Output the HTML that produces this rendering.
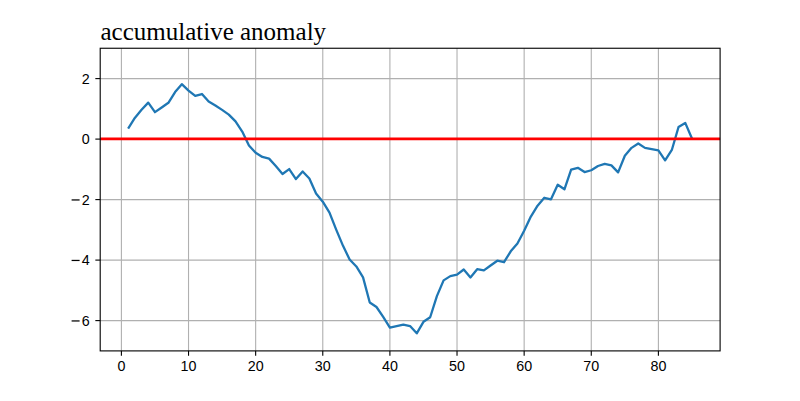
<!DOCTYPE html>
<html><head><meta charset="utf-8"><style>
html,body{margin:0;padding:0;background:#fff;width:800px;height:401px;overflow:hidden}
svg{display:block}
.g{stroke:#b0b0b0;stroke-width:1.11}
.d{fill:none;stroke:#1f77b4;stroke-width:2.3;stroke-linejoin:round;stroke-linecap:butt}
.r{stroke:#ff0000;stroke-width:2.78}
.s{fill:none;stroke:#000;stroke-width:1.11}
.t{stroke:#000;stroke-width:1.11}
.l{font-family:"Liberation Sans",sans-serif;font-size:14.3px;fill:#000}
.ti{font-family:"Liberation Serif",serif;font-size:25px;fill:#000}
</style></head><body>
<svg width="800" height="401" viewBox="0 0 800 401">
<rect width="800" height="401" fill="#fff"/>
<line x1="121.40" y1="48.25" x2="121.40" y2="350.90" class="g"/>
<line x1="188.53" y1="48.25" x2="188.53" y2="350.90" class="g"/>
<line x1="255.65" y1="48.25" x2="255.65" y2="350.90" class="g"/>
<line x1="322.77" y1="48.25" x2="322.77" y2="350.90" class="g"/>
<line x1="389.90" y1="48.25" x2="389.90" y2="350.90" class="g"/>
<line x1="457.02" y1="48.25" x2="457.02" y2="350.90" class="g"/>
<line x1="524.15" y1="48.25" x2="524.15" y2="350.90" class="g"/>
<line x1="591.27" y1="48.25" x2="591.27" y2="350.90" class="g"/>
<line x1="658.40" y1="48.25" x2="658.40" y2="350.90" class="g"/>
<line x1="100.20" y1="320.60" x2="720.10" y2="320.60" class="g"/>
<line x1="100.20" y1="260.10" x2="720.10" y2="260.10" class="g"/>
<line x1="100.20" y1="199.60" x2="720.10" y2="199.60" class="g"/>
<line x1="100.20" y1="139.10" x2="720.10" y2="139.10" class="g"/>
<line x1="100.20" y1="78.60" x2="720.10" y2="78.60" class="g"/>
<polyline points="128.11,128.51 134.83,117.92 141.54,109.76 148.25,102.65 154.96,112.18 161.68,107.49 168.39,102.80 175.10,92.06 181.81,84.20 188.53,90.55 195.24,95.84 201.95,94.03 208.66,101.59 215.38,105.52 222.09,109.91 228.80,114.60 235.51,121.40 242.23,131.54 248.94,145.45 255.65,152.71 262.36,156.95 269.08,158.61 275.79,166.02 282.50,174.04 289.21,169.05 295.93,179.03 302.64,171.47 309.35,178.43 316.06,193.55 322.77,201.72 329.49,212.61 336.20,229.55 342.91,245.58 349.62,259.50 356.34,266.45 363.05,277.34 369.76,302.45 376.48,306.99 383.19,316.97 389.90,327.56 396.61,326.04 403.33,324.53 410.04,326.04 416.75,333.30 423.46,321.81 430.18,317.27 436.89,296.10 443.60,280.37 450.31,276.13 457.02,274.62 463.74,269.48 470.45,277.49 477.16,269.17 483.88,270.38 490.59,265.54 497.30,260.70 504.01,262.22 510.73,251.33 517.44,243.46 524.15,230.76 530.86,216.54 537.58,205.65 544.29,197.78 551.00,199.30 557.71,184.78 564.43,189.31 571.14,169.65 577.85,167.84 584.56,172.07 591.27,170.26 597.99,166.02 604.70,163.91 611.41,165.42 618.12,172.38 624.84,155.74 631.55,147.87 638.26,143.49 644.98,147.87 651.69,149.08 658.40,150.29 665.11,160.27 671.83,149.99 678.54,127.00 685.25,122.92 691.96,138.50" class="d"/>
<line x1="100.20" y1="138.9" x2="720.10" y2="138.9" class="r"/>
<rect x="100.20" y="48.25" width="619.90" height="302.65" class="s"/>
<line x1="121.40" y1="350.90" x2="121.40" y2="355.76" class="t"/>
<line x1="188.53" y1="350.90" x2="188.53" y2="355.76" class="t"/>
<line x1="255.65" y1="350.90" x2="255.65" y2="355.76" class="t"/>
<line x1="322.77" y1="350.90" x2="322.77" y2="355.76" class="t"/>
<line x1="389.90" y1="350.90" x2="389.90" y2="355.76" class="t"/>
<line x1="457.02" y1="350.90" x2="457.02" y2="355.76" class="t"/>
<line x1="524.15" y1="350.90" x2="524.15" y2="355.76" class="t"/>
<line x1="591.27" y1="350.90" x2="591.27" y2="355.76" class="t"/>
<line x1="658.40" y1="350.90" x2="658.40" y2="355.76" class="t"/>
<line x1="95.34" y1="320.60" x2="100.20" y2="320.60" class="t"/>
<line x1="95.34" y1="260.10" x2="100.20" y2="260.10" class="t"/>
<line x1="95.34" y1="199.60" x2="100.20" y2="199.60" class="t"/>
<line x1="95.34" y1="139.10" x2="100.20" y2="139.10" class="t"/>
<line x1="95.34" y1="78.60" x2="100.20" y2="78.60" class="t"/>
<text x="121.40" y="370.60" text-anchor="middle" class="l">0</text>
<text x="188.53" y="370.60" text-anchor="middle" class="l">10</text>
<text x="255.65" y="370.60" text-anchor="middle" class="l">20</text>
<text x="322.77" y="370.60" text-anchor="middle" class="l">30</text>
<text x="389.90" y="370.60" text-anchor="middle" class="l">40</text>
<text x="457.02" y="370.60" text-anchor="middle" class="l">50</text>
<text x="524.15" y="370.60" text-anchor="middle" class="l">60</text>
<text x="591.27" y="370.60" text-anchor="middle" class="l">70</text>
<text x="658.40" y="370.60" text-anchor="middle" class="l">80</text>
<text x="89.60" y="325.60" text-anchor="end" class="l">6</text>
<rect x="71.6" y="320.33" width="8" height="1.24" fill="#000"/>
<text x="89.60" y="265.10" text-anchor="end" class="l">4</text>
<rect x="71.6" y="259.83" width="8" height="1.24" fill="#000"/>
<text x="89.60" y="204.60" text-anchor="end" class="l">2</text>
<rect x="71.6" y="199.33" width="8" height="1.24" fill="#000"/>
<text x="89.60" y="144.10" text-anchor="end" class="l">0</text>
<text x="89.60" y="83.60" text-anchor="end" class="l">2</text>
<text x="100.5" y="39.6" class="ti">accumulative anomaly</text>
</svg>
</body></html>
